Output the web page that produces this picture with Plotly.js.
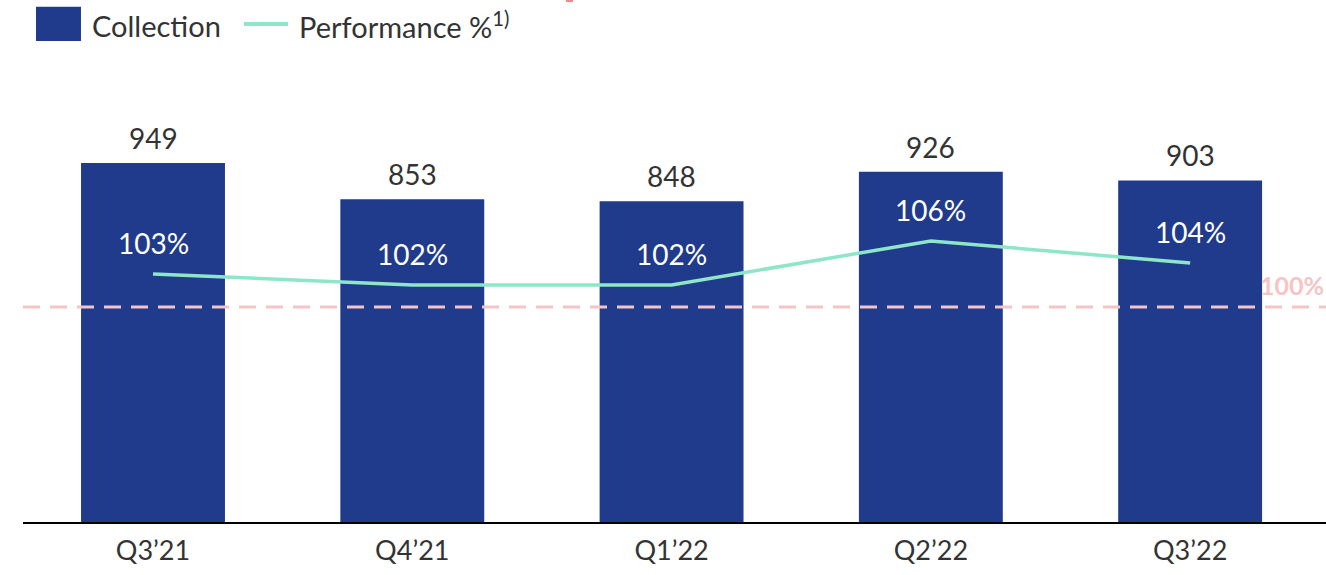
<!DOCTYPE html>
<html>
<head>
<meta charset="utf-8">
<script src="https://cdn.plot.ly/plotly-3.0.1.min.js"></script>
<style>html,body{margin:0;padding:0;background:#fff;}#chart{width:1326px;height:575px;}</style>
</head>
<body>
<div id="chart"></div>
<script>
const categories = ["Q3’21", "Q4’21", "Q1’22", "Q2’22", "Q3’22"];
const collection = [949, 853, 848, 926, 903];
const collectionLabels = ["949", "853", "848", "926", "903"];
const performance = [103, 102, 102, 106, 104];
const performanceLabels = ["103%", "102%", "102%", "106%", "104%"];
const targetPct = 100;

const FONT = "Lato, 'Open Sans', sans-serif";
const TXT = "#333333";
const BAR = "#213B8C";
const LINE = "#8EE6C8";
const PINK = "#F5C4C4";

const traces = [
  {
    type: "bar", x: [0,1,2,3,4], y: collection, name: "Collection",
    marker: {color: BAR}, width: 0.555,
    showlegend: false, hoverinfo: "skip"
  },
  {
    type: "scatter", mode: "lines", x: [0,1,2,3,4], y: performance, yaxis: "y2",
    name: "Performance %", line: {color: LINE, width: 3.5},
    showlegend: false, hoverinfo: "skip"
  }
];

const annotations = [];
collection.forEach((v, i) => annotations.push({
  x: i, y: v, xref: "x", yref: "y", yanchor: "bottom", yshift: 6, text: collectionLabels[i],
  showarrow: false, font: {family: FONT, size: 28, color: TXT}
}));
performance.forEach((v, i) => annotations.push({
  x: i, y: v, xref: "x", yref: "y2", text: performanceLabels[i],
  showarrow: false, yshift: 31, font: {family: FONT, size: 28, color: "#ffffff"}
}));
annotations.push({
  x: 1, xref: "paper", xanchor: "right", y: targetPct, yref: "y2", yshift: 22,
  text: "<b>100%</b>", showarrow: false, font: {family: FONT, size: 25, color: PINK}
});
// legend (manual)
annotations.push({
  x: 0.0537, xref: "paper", xanchor: "left", xshift: -3, y: 1.075, yref: "paper", yanchor: "middle",
  text: "Collection", showarrow: false, font: {family: FONT, size: 29, color: TXT}
});
annotations.push({
  x: 0.2126, xref: "paper", xanchor: "left", xshift: -3, y: 1.075, yref: "paper", yanchor: "middle",
  text: "Performance %<sup>1)</sup>", showarrow: false, font: {family: FONT, size: 29, color: TXT}
});

const shapes = [
  {type: "line", xref: "paper", x0: 0, x1: 1, yref: "y2", y0: targetPct, y1: targetPct,
   line: {color: PINK, width: 3, dash: "17px,10px"}, layer: "above"},
  {type: "rect", xref: "paper", yref: "paper", x0: 0.00998, x1: 0.0445, y0: 1.041, y1: 1.115,
   fillcolor: BAR, line: {width: 0}},
  {type: "line", xref: "paper", yref: "paper", x0: 0.1696, x1: 0.2034, y0: 1.078, y1: 1.078,
   line: {color: LINE, width: 4}},
  {type: "rect", xref: "paper", yref: "paper", x0: 0.4167, x1: 0.4221, y0: 1.1255, y1: 1.1299,
   fillcolor: "#F08A8A", line: {width: 0}}
];

const layout = {
  width: 1326, height: 575,
  margin: {l: 23, r: 0, t: 60, b: 53},
  paper_bgcolor: "#ffffff", plot_bgcolor: "#ffffff",
  font: {family: FONT, color: TXT},
  showlegend: false,
  xaxis: {
    range: [-0.5014, 4.524], tickmode: "array", tickvals: [0,1,2,3,4], ticktext: categories,
    showgrid: false, zeroline: false, showline: true, linecolor: "#000000", linewidth: 2,
    ticks: "", ticklabelstandoff: 4, tickfont: {family: FONT, size: 27, color: TXT}, fixedrange: true
  },
  yaxis: {range: [0, 1221.3], visible: false, showgrid: false, zeroline: false},
  yaxis2: {range: [80.45, 122.45], overlaying: "y", visible: false, showgrid: false, zeroline: false},
  annotations: annotations,
  shapes: shapes
};

Plotly.newPlot("chart", traces, layout, {displayModeBar: false, staticPlot: true});
</script>
</body>
</html>
